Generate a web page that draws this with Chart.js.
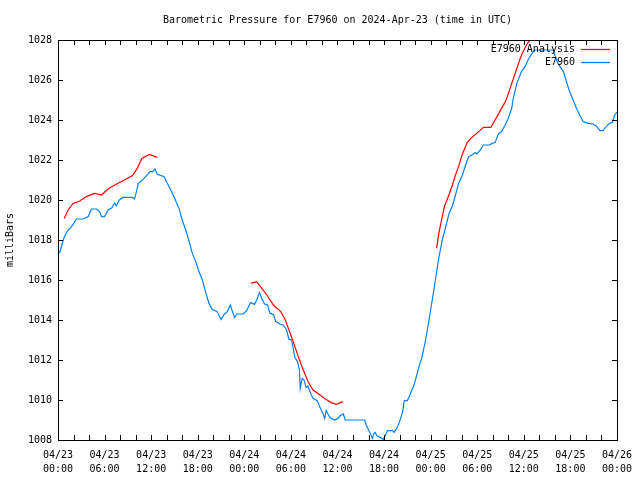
<!DOCTYPE html>
<html>
<head>
<meta charset="utf-8">
<script src="https://cdn.jsdelivr.net/npm/chart.js@4/dist/chart.umd.min.js"></script>
<style>
  html, body { margin: 0; padding: 0; background: #fff; }
</style>
</head>
<body>
<canvas id="pressureChart" width="640" height="480"></canvas>
<script>
// hours since 2024-04-23 00:00 UTC
const obsHours = [0, 0.25, 0.5, 0.8, 1.3, 1.75, 2.4, 3.2, 3.9, 4.3, 4.95, 5.4, 5.6, 6.0, 6.45, 6.9, 7.3, 7.5, 7.9, 8.35,
  9.6, 9.85, 10.05, 10.35, 11.1, 11.85, 12.2, 12.5, 12.8, 13.05, 13.65, 14.1, 14.75, 15.2, 15.6, 16.0, 16.45, 16.9, 17.3, 17.75,
  18.15, 18.6, 19.0, 19.45, 19.85, 20.5, 21.0, 21.35, 21.8, 22.2, 22.4, 22.75, 23.05, 23.9, 24.35, 24.8, 25.3, 25.6, 25.95, 26.25,
  26.6, 27.0, 27.3, 27.75, 28.05, 28.6, 29.0, 29.45, 29.75, 30.1, 30.3, 30.5, 30.85, 31.1, 31.2, 31.45, 31.7, 31.95, 32.2, 32.55,
  32.85, 33.4, 33.7, 34.15, 34.35, 34.55, 34.9, 35.2, 35.65, 36.05, 36.3, 36.75, 37.0, 39.5, 39.7, 40.1, 40.3, 40.5, 40.7, 40.85,
  41.1, 41.5, 41.9, 42.1, 42.45, 43.1, 43.3, 43.75, 44.1, 44.4, 44.6, 45.0, 45.25, 45.5, 45.8, 46.1, 46.5, 46.9, 47.35, 47.65,
  48.0, 48.35, 48.65, 49.05, 49.5, 49.9, 50.35, 50.8, 51.2, 51.6, 52.05, 52.5, 52.9, 53.3, 53.75, 53.95, 54.4, 54.8, 55.6, 55.9,
  56.3, 56.75, 57.15, 57.6, 58.0, 58.45, 58.65, 59.1, 59.7, 60.15, 60.55, 61.0, 61.4, 63.8, 64.0, 64.4, 65.1, 65.5, 65.9, 66.35,
  66.8, 67.2, 67.65, 68.3, 68.9, 69.35, 69.8, 70.2, 70.6, 71.05, 71.4, 71.7, 72.0];
const obsPressure = [1017.3, 1017.4, 1017.75, 1018.15, 1018.5, 1018.67, 1019.05, 1019.05, 1019.17, 1019.55, 1019.55, 1019.4, 1019.17, 1019.17, 1019.5, 1019.6, 1019.85, 1019.7, 1020.0, 1020.13,
  1020.13, 1020.05, 1020.33, 1020.83, 1021.08, 1021.42, 1021.42, 1021.55, 1021.28, 1021.25, 1021.17, 1020.83, 1020.33, 1019.92, 1019.58, 1019.0, 1018.5, 1017.92, 1017.33, 1016.92,
  1016.42, 1016.0, 1015.42, 1014.83, 1014.53, 1014.42, 1014.03, 1014.25, 1014.42, 1014.75, 1014.5, 1014.13, 1014.3, 1014.3, 1014.5, 1014.87, 1014.78, 1015.0, 1015.37, 1015.08,
  1014.8, 1014.75, 1014.33, 1014.28, 1013.92, 1013.8, 1013.75, 1013.5, 1013.03, 1013.0, 1012.58, 1012.13, 1011.92, 1011.5, 1010.58, 1011.08, 1011.0, 1010.63, 1010.7, 1010.33,
  1010.08, 1009.97, 1009.67, 1009.3, 1009.08, 1009.47, 1009.2, 1009.08, 1009.0, 1009.08, 1009.2, 1009.3, 1009.0, 1009.0, 1008.75, 1008.42, 1008.28, 1008.08, 1008.33, 1008.38,
  1008.2, 1008.13, 1008.03, 1008.17, 1008.47, 1008.47, 1008.38, 1008.67, 1009.03, 1009.42, 1009.97, 1009.97, 1010.17, 1010.42, 1010.67, 1011.08, 1011.67, 1012.17, 1013.0, 1013.67,
  1014.5, 1015.33, 1016.1, 1017.1, 1018.0, 1018.6, 1019.3, 1019.7, 1020.25, 1020.83, 1021.2, 1021.75, 1022.17, 1022.25, 1022.37, 1022.3, 1022.5, 1022.75, 1022.75, 1022.83,
  1022.87, 1023.33, 1023.42, 1023.75, 1024.08, 1024.6, 1025.1, 1025.83, 1026.42, 1026.67, 1027.0, 1027.3, 1027.5, 1027.5, 1027.25, 1026.83, 1026.42, 1025.92, 1025.42, 1025.0,
  1024.58, 1024.25, 1023.92, 1023.83, 1023.8, 1023.7, 1023.47, 1023.47, 1023.67, 1023.83, 1023.87, 1024.25, 1024.4];

// analysis runs, null breaks the line between runs
const anaHours = [0.8, 1.3, 1.95, 2.8, 3.65, 4.7, 5.6, 6.45, 7.3, 8.55, 9.6, 10.2, 10.8, 11.75, 12.8, 18,
  24.85, 25.6, 26.25, 26.9, 27.75, 28.7, 29.25, 29.75, 30.3, 30.95, 31.6, 32.2, 32.85, 33.5, 34.35, 35.2, 35.85, 36.7, 42,
  48.77, 49.05, 49.5, 49.8, 50.35, 50.8, 51.2, 51.6, 52.05, 52.7, 53.3, 54.2, 54.8, 55.75, 56.3, 56.9, 57.5, 57.8, 58.45, 59.1, 59.7, 60.35, 60.8];
const anaPressure = [1019.08, 1019.5, 1019.83, 1019.95, 1020.17, 1020.33, 1020.25, 1020.55, 1020.75, 1021.0, 1021.22, 1021.58, 1022.08, 1022.28, 1022.13, null,
  1015.83, 1015.92, 1015.58, 1015.25, 1014.75, 1014.42, 1014.03, 1013.5, 1012.92, 1012.17, 1011.5, 1010.92, 1010.5, 1010.33, 1010.08, 1009.87, 1009.78, 1009.92, null,
  1017.58, 1018.33, 1019.17, 1019.7, 1020.25, 1020.75, 1021.25, 1021.67, 1022.25, 1022.87, 1023.13, 1023.42, 1023.63, 1023.63, 1024.0, 1024.42, 1024.83, 1025.08, 1025.83, 1026.58, 1027.25, 1027.75, 1028.0];

const tickDays = ["04/23", "04/23", "04/23", "04/23", "04/24", "04/24", "04/24", "04/24", "04/25", "04/25", "04/25", "04/25", "04/26"];
const tickTimes = ["00:00", "06:00", "12:00", "18:00", "00:00", "06:00", "12:00", "18:00", "00:00", "06:00", "12:00", "18:00", "00:00"];

const chartTitle = "Barometric Pressure for E7960 on 2024-Apr-23 (time in UTC)";
const yTitle = "milliBars";
const seriesNames = ["E7960 Analysis", "E7960"];
const seriesColors = ["#ff0000", "#0080ff"];

const FONT = "10px 'DejaVu Sans Mono', 'Liberation Mono', monospace";

function toPoints(xs, ys) {
    return xs.map((x, i) => ({ x: x, y: ys[i] }));
}

// gnuplot look: frame, inward ticks, title, legend inside the plot
const gnuplotDecor = {
    id: "gnuplotDecor",
    afterDraw(chart) {
        const ctx = chart.ctx;
        const a = chart.chartArea;
        const xs = chart.scales.x;
        const ys = chart.scales.y;
        const tl = 5;

        ctx.save();
        ctx.strokeStyle = "#000";
        ctx.lineWidth = 1;
        ctx.strokeRect(Math.round(a.left) + 0.5, Math.round(a.top) + 0.5,
            Math.round(a.right - a.left), Math.round(a.bottom - a.top));

        ctx.beginPath();
        for (let h = 0; h <= 72; h += 2) {
            const px = Math.round(xs.getPixelForValue(h)) + 0.5;
            ctx.moveTo(px, a.bottom);
            ctx.lineTo(px, a.bottom - tl);
            ctx.moveTo(px, a.top);
            ctx.lineTo(px, a.top + tl);
        }
        for (let p = 1008; p <= 1028; p += 2) {
            const py = Math.round(ys.getPixelForValue(p)) + 0.5;
            ctx.moveTo(a.left, py);
            ctx.lineTo(a.left + tl, py);
            ctx.moveTo(a.right, py);
            ctx.lineTo(a.right - tl, py);
        }
        ctx.stroke();

        ctx.fillStyle = "#000";
        ctx.font = FONT;
        ctx.textAlign = "center";
        ctx.textBaseline = "middle";
        ctx.fillText(chartTitle, (a.left + a.right) / 2, 20);

        ctx.save();
        ctx.translate(10, (a.top + a.bottom) / 2);
        ctx.rotate(-Math.PI / 2);
        ctx.fillText(yTitle, 0, 0);
        ctx.restore();

        // legend
        ctx.textAlign = "right";
        seriesNames.forEach((name, i) => {
            const ly = 49 + i * 13;
            ctx.fillStyle = "#000";
            ctx.fillText(name, 575, ly);
            ctx.save();
            ctx.strokeStyle = seriesColors[i];
            ctx.lineWidth = 1.3;
            ctx.beginPath();
            ctx.moveTo(581, ly + 0.5);
            ctx.lineTo(610, ly + 0.5);
            ctx.stroke();
            ctx.restore();
        });
        ctx.restore();
    }
};

new Chart(document.getElementById("pressureChart"), {
    type: "line",
    data: {
        datasets: [
            {
                label: seriesNames[0],
                data: toPoints(anaHours, anaPressure),
                borderColor: seriesColors[0],
                borderWidth: 1.2,
                pointRadius: 0,
                spanGaps: false,
                tension: 0
            },
            {
                label: seriesNames[1],
                data: toPoints(obsHours, obsPressure),
                borderColor: seriesColors[1],
                borderWidth: 1.2,
                pointRadius: 0,
                tension: 0
            }
        ]
    },
    options: {
        responsive: false,
        animation: false,
        parsing: false,
        layout: { padding: { top: 40, right: 19, left: 0, bottom: 0 } },
        plugins: {
            legend: { display: false },
            title: { display: false },
            tooltip: { enabled: false }
        },
        scales: {
            x: {
                type: "linear",
                min: 0,
                max: 72,
                grid: { display: false, drawTicks: false },
                border: { display: false },
                afterFit: s => { s.height = 40; },
                ticks: {
                    stepSize: 6,
                    autoSkip: false,
                    maxRotation: 0,
                    padding: 8,
                    color: "#000",
                    font: { family: "'DejaVu Sans Mono', 'Liberation Mono', monospace", size: 10, lineHeight: 1.4 },
                    callback: v => [tickDays[v / 6], tickTimes[v / 6]]
                }
            },
            y: {
                min: 1008,
                max: 1028,
                grid: { display: false, drawTicks: false },
                border: { display: false },
                afterFit: s => { s.width = 58; },
                ticks: {
                    stepSize: 2,
                    padding: 6,
                    color: "#000",
                    font: { family: "'DejaVu Sans Mono', 'Liberation Mono', monospace", size: 10 },
                    callback: v => String(v)
                }
            }
        }
    },
    plugins: [gnuplotDecor]
});
</script>
</body>
</html>
